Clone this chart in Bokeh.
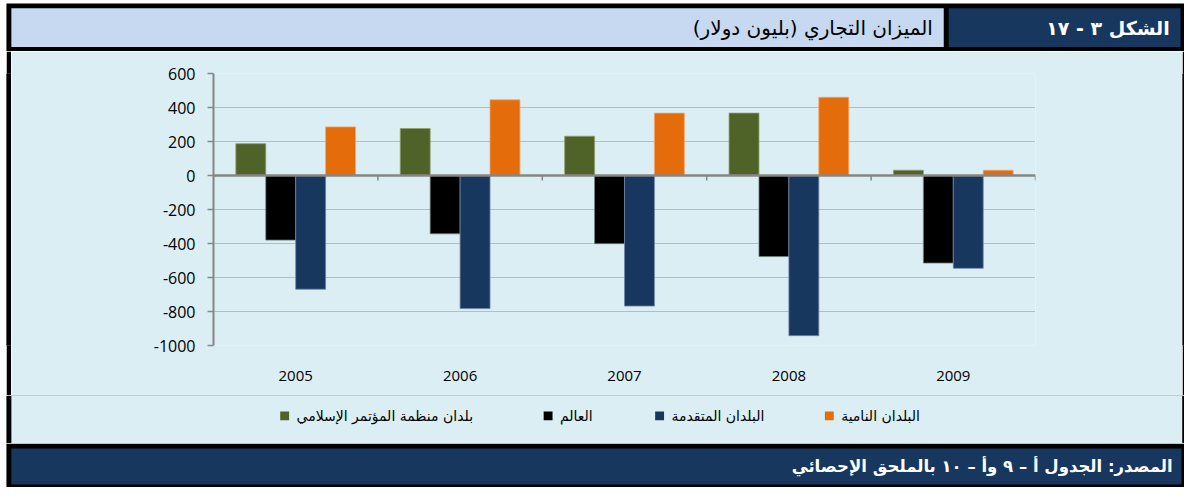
import numpy as np
from bokeh.plotting import figure
from bokeh.layouts import column, row
from bokeh.models import Range1d, FixedTicker, Span
from bokeh.core.properties import value
from bokeh.embed import file_html
from bokeh.resources import INLINE

# ---------------- data ----------------
years = ["2005", "2006", "2007", "2008", "2009"]
series_names = ["بلدان منظمة المؤتمر الإسلامي", "العالم", "البلدان المتقدمة", "البلدان النامية"]
oic = [187, 276, 231, 367, 31]
world = [-380, -343, -401, -477, -515]
developed = [-669, -783, -768, -942, -546]
developing = [286, 445, 367, 460, 31]
y_ticks = [600, 400, 200, 0, -200, -400, -600, -800, -1000]
y_tick_labels = ["600", "400", "200", "0", "-200", "-400", "-600", "-800", "-1000"]
title_text = "الميزان التجاري (بليون دولار)"
figure_label = "الشكل ٣ - ١٧"
source_text = "المصدر: الجدول أ – ٩ وأ – ١٠ بالملحق الإحصائي"

series_values = [oic, world, developed, developing]
series_colors = ["#4F6228", "#000000", "#17375E", "#E46C0A"]
series_edges = ["#8FA06A", "#6F7F78", "#6F86A6", "#F2A46A"]

RLM = "\u200f"
CYAN = "#DBEEF4"
LIGHT = "#C6D9F1"
DARK = "#17375E"
AR_FONT = value("DejaVu Sans")

W, H = 1184, 487          # pixel size of the whole layout
RW, RH = 1200.0, 503.0    # reference layout units
SX, SY = W / RW, H / RH


def page_fig(px_w, px_y0, px_y1):
    """Figure whose data coordinates are reference-layout units."""
    f = figure(width=px_w, height=px_y1 - px_y0,
               x_range=Range1d(0, px_w / SX), y_range=Range1d(px_y1 / SY, px_y0 / SY),
               min_border=0, min_border_left=0, min_border_right=0, min_border_top=0,
               min_border_bottom=0, toolbar_location=None, output_backend="svg",
               background_fill_color="white", border_fill_color="white",
               outline_line_color=None)
    f.axis.visible = False
    f.grid.visible = False
    return f


# ---------------- header ----------------
HY0, HY1 = 0, 51
hdr = page_fig(W, HY0, HY1)
hdr.quad(left=[6], right=[RW], top=[3], bottom=[HY1 / SY], fill_color="black", line_color=None)
hdr.quad(left=[11], right=[956], top=[8], bottom=[48], fill_color=LIGHT, line_color=None)
hdr.quad(left=[961], right=[1196], top=[8], bottom=[48], fill_color=DARK, line_color=None)
hdr.text(x=[945], y=[28], text=[RLM + title_text + RLM], text_align="right",
         text_baseline="middle", text_font=AR_FONT, text_font_size="20px", text_color="black")
hdr.text(x=[1185], y=[28], text=[RLM + figure_label + RLM], text_align="right",
         text_baseline="middle", text_font=AR_FONT, text_font_size="19px",
         text_font_style="bold", text_color="white")

# ---------------- chart ----------------
CY0, CY1 = 51, 395
CH_H = CY1 - CY0
WHITE_STRIP = 6
LEFT_STRIP = 5
RIGHT_STRIP = 2
CH_W = W - WHITE_STRIP - LEFT_STRIP - RIGHT_STRIP
B_TOP, B_BOTTOM = 22, 50
chart = figure(width=CH_W, height=CH_H, x_range=Range1d(0, len(years)),
               y_range=Range1d(min(y_ticks), max(y_ticks)),
               min_border_left=202, min_border_right=147, min_border_top=B_TOP,
               min_border_bottom=B_BOTTOM,
               background_fill_color=CYAN, border_fill_color=CYAN, outline_line_color=None,
               toolbar_location=None, output_backend="svg")

bw = 0.182
centers = np.arange(len(years)) + 0.5
offsets = [-1.5, -0.5, 0.5, 1.5]
for vals, col, edge, off in zip(series_values, series_colors, series_edges, offsets):
    chart.vbar(x=centers + off * bw, top=vals, bottom=0, width=bw,
               fill_color=col, line_color=edge, line_width=0.8)

chart.add_layout(Span(location=0, dimension="width", line_color="#868686", line_width=2.5))
bounds = np.arange(len(years) + 1)
chart.segment(x0=bounds, y0=np.zeros(len(bounds)), x1=bounds, y1=np.full(len(bounds), -30.0),
              line_color="#868686", line_width=1.5)

chart.yaxis.ticker = FixedTicker(ticks=y_ticks)
chart.yaxis.major_label_overrides = {t: l for t, l in zip(y_ticks, y_tick_labels)}
chart.yaxis.axis_line_color = "#868686"
chart.yaxis.axis_line_width = 2
chart.yaxis.major_tick_line_color = "#868686"
chart.yaxis.major_tick_line_width = 1.5
chart.yaxis.major_tick_out = 6
chart.yaxis.major_tick_in = 0
chart.yaxis.minor_tick_line_color = None
chart.yaxis.major_label_standoff = 12
chart.yaxis.major_label_text_font = "Open Sans"
chart.yaxis.major_label_text_font_size = "16px"
chart.yaxis.major_label_text_color = "black"

chart.xaxis.ticker = FixedTicker(ticks=list(centers))
chart.xaxis.major_label_overrides = {float(c): y for c, y in zip(centers, years)}
chart.xaxis.axis_line_color = None
chart.xaxis.major_tick_line_color = None
chart.xaxis.minor_tick_line_color = None
chart.xaxis.major_label_standoff = 19
chart.xaxis.major_label_text_font = "Open Sans"
chart.xaxis.major_label_text_font_size = "15px"
chart.xaxis.major_label_text_color = "black"

chart.xgrid.visible = False
chart.ygrid.ticker = FixedTicker(ticks=y_ticks)
chart.ygrid.grid_line_color = "#8C8C8C"
chart.ygrid.grid_line_dash = "1 1"
chart.ygrid.grid_line_width = 1.2


def strip(w, h, color):
    s = figure(width=w, height=h, x_range=Range1d(0, w), y_range=Range1d(0, h),
               min_border=0, min_border_left=0, min_border_right=0, min_border_top=B_TOP,
               min_border_bottom=B_BOTTOM, toolbar_location=None, output_backend="svg",
               background_fill_color=color, border_fill_color=color, outline_line_color=None)
    s.quad(left=[0], right=[w], bottom=[0], top=[h], fill_color=color, line_color=None)
    s.axis.visible = False
    s.grid.visible = False
    return s


chart_row = row(strip(WHITE_STRIP, CH_H, "white"), strip(LEFT_STRIP, CH_H, "black"), chart,
                strip(RIGHT_STRIP, CH_H, "black"), spacing=0)

# ---------------- legend ----------------
LY0, LY1 = 395, 443
leg = page_fig(W, LY0, LY1)
leg.quad(left=[6], right=[RW], top=[LY0 / SY], bottom=[LY1 / SY], fill_color="black", line_color=None)
leg.quad(left=[11], right=[1197.7], top=[LY0 / SY], bottom=[457.7], fill_color=CYAN, line_color=None)
sq_x = [288, 555, 668, 840]
leg_y = 429
leg.rect(x=sq_x, y=[leg_y] * 4, width=9, height=9, fill_color=series_colors, line_color=None)
leg.text(x=[x + 12 for x in sq_x], y=[leg_y] * 4, text=[RLM + s + RLM for s in series_names],
         text_align="left", text_baseline="middle", text_font=AR_FONT,
         text_font_size="14px", text_color="black")

# ---------------- footer ----------------
FY0, FY1 = 443, 487
ftr = page_fig(W, FY0, FY1)
ftr.quad(left=[6], right=[RW], top=[FY0 / SY], bottom=[RH], fill_color="black", line_color=None)
ftr.quad(left=[11], right=[1197.7], top=[FY0 / SY], bottom=[457.7], fill_color=CYAN, line_color=None)
ftr.quad(left=[11], right=[1197], top=[462.7], bottom=[500], fill_color=DARK, line_color=None)
ftr.text(x=[1188], y=[481], text=[RLM + source_text + RLM], text_align="right",
         text_baseline="middle", text_font=AR_FONT, text_font_size="16.5px",
         text_font_style="bold", text_color="white")

p = column(hdr, chart_row, leg, ftr, spacing=0)

open("out.html", "w").write(file_html(p, INLINE))
